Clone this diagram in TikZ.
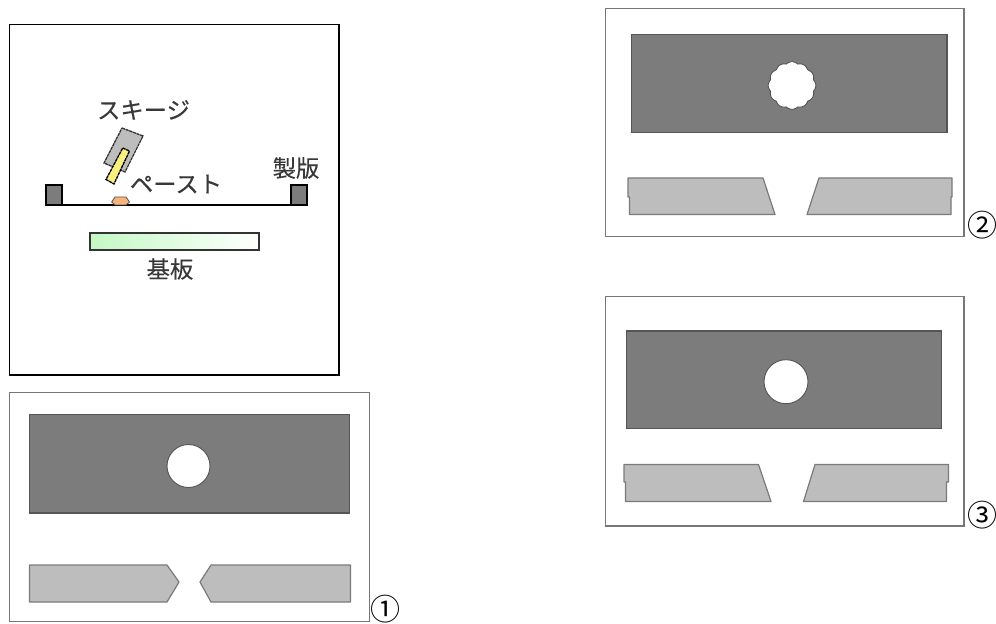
\documentclass[tikz,border=0pt]{standalone}
\usepackage{fontspec}
\newfontfamily\jpfont[FakeBold=0.25]{Noto Sans CJK JP}
\newfontfamily\numfont{Noto Sans CJK JP}
\definecolor{darkfill}{HTML}{7C7C7C}
\definecolor{darkedge}{HTML}{555555}
\definecolor{lightfill}{HTML}{BDBDBD}
\definecolor{lightedge}{HTML}{7A7A7A}
\definecolor{frameedge}{HTML}{777777}
\definecolor{textgray}{HTML}{383838}
\definecolor{pastefill}{HTML}{F6B47C}
\definecolor{bladefill}{HTML}{F8F080}
\definecolor{basegreen}{HTML}{C4F8C4}
\tikzset{
  frame/.style={draw=frameedge,line width=1pt,fill=white},
  mask/.style={draw=darkedge,line width=0.9pt,fill=darkfill},
  hole/.style={draw=darkedge,line width=0.7pt,fill=white},
  land/.style={draw=lightedge,line width=0.9pt,fill=lightfill,line join=round},
  lbl/.style={font=\jpfont\fontsize{17.5}{19}\selectfont,text=textgray,inner sep=0pt},
  num/.style={font=\numfont\fontsize{22.5}{24}\selectfont,text=black,inner sep=0pt},
  thick line/.style={draw=black,line width=1.1pt},
}
\begin{document}
\begin{tikzpicture}[x=0.75pt,y=-0.75pt]
\useasboundingbox (0,0) rectangle (996,624);
% main figure
\draw[draw=black,line width=1.4pt,fill=white] (9.5,24.5) rectangle (339,375);
\draw[draw=black,line width=0.9pt,fill=darkfill] (46,185) rectangle (62,205);
\draw[draw=black,line width=0.9pt,fill=darkfill] (291,185) rectangle (307,205);
\draw[thick line] (46,205) -- (307,205);
\draw[draw=darkedge,line width=0.6pt,fill=pastefill] (115,197) -- (126,197) -- (129.5,202) -- (126,205) -- (115,205) -- (111.7,202) -- cycle;
\draw[draw=black!80,line width=1pt,left color=basegreen,right color=white] (90,233) rectangle (259,250);
\draw[draw=black!80,line width=1pt,dash pattern=on 2.4pt off 0.5pt,fill=lightfill] (122,128) -- (143,136) -- (125,172) -- (104,163) -- cycle;
\draw[draw=black,line width=1pt,dash pattern=on 2.4pt off 0.5pt,fill=bladefill] (122.7,148) -- (129.5,151) -- (114,184) -- (106,179.5) -- cycle;
\node[lbl] (squeegee) at (143.5,110) {スキージ};
\node[lbl] (paste) at (176,184) {ペースト};
\node[lbl] (plate) at (296,168) {製版};
\node[lbl] (board) at (170,269) {基板};
% panel 1
\draw[frame] (9.5,392.7) rectangle (369.5,621.7);
\draw[mask] (29.5,414.5) rectangle (349.5,513);
\draw[hole] (188.5,466) circle[radius=21.5];
\draw[land] (29.5,565) -- (167,565) -- (179,582) -- (167,602) -- (29.5,602) -- cycle;
\draw[land] (350.5,565) -- (211,565) -- (200,582) -- (211,602) -- (350.5,602) -- cycle;
\node[num] (one) at (385,609) {①};
% panel 2
\draw[frame] (605.5,8.5) rectangle (964,236.7);
\draw[mask] (631.5,34.5) rectangle (947,132.5);
\draw[hole] plot[domain=0:360,samples=241] ({792+(22.2+1.6*abs(cos(6*\x)))*cos(\x)},{85.5+(22.2+1.6*abs(cos(6*\x)))*sin(\x)}) -- cycle;
\draw[land] (628,178) -- (763,178) -- (775,214.5) -- (629.5,214.5) -- (629.5,197) -- (628,197) -- cycle;
\draw[land] (819,178) -- (952,178) -- (952,197) -- (951,197) -- (951,214.5) -- (807,214.5) -- cycle;
\node[num] (two) at (982,225) {②};
% panel 3
\draw[frame] (605.5,296.7) rectangle (964,526);
\draw[mask] (626.5,331) rectangle (941.5,428.7);
\draw[hole] (786,381.7) circle[radius=22];
\draw[land] (624,464.5) -- (758.5,464.5) -- (771,501.5) -- (625.5,501.5) -- (625.5,482) -- (624,482) -- cycle;
\draw[land] (815,464.5) -- (948.5,464.5) -- (948.5,482) -- (946.5,482) -- (946.5,501.5) -- (803.5,501.5) -- cycle;
\node[num] (three) at (982,515) {③};
\end{tikzpicture}
\end{document}
